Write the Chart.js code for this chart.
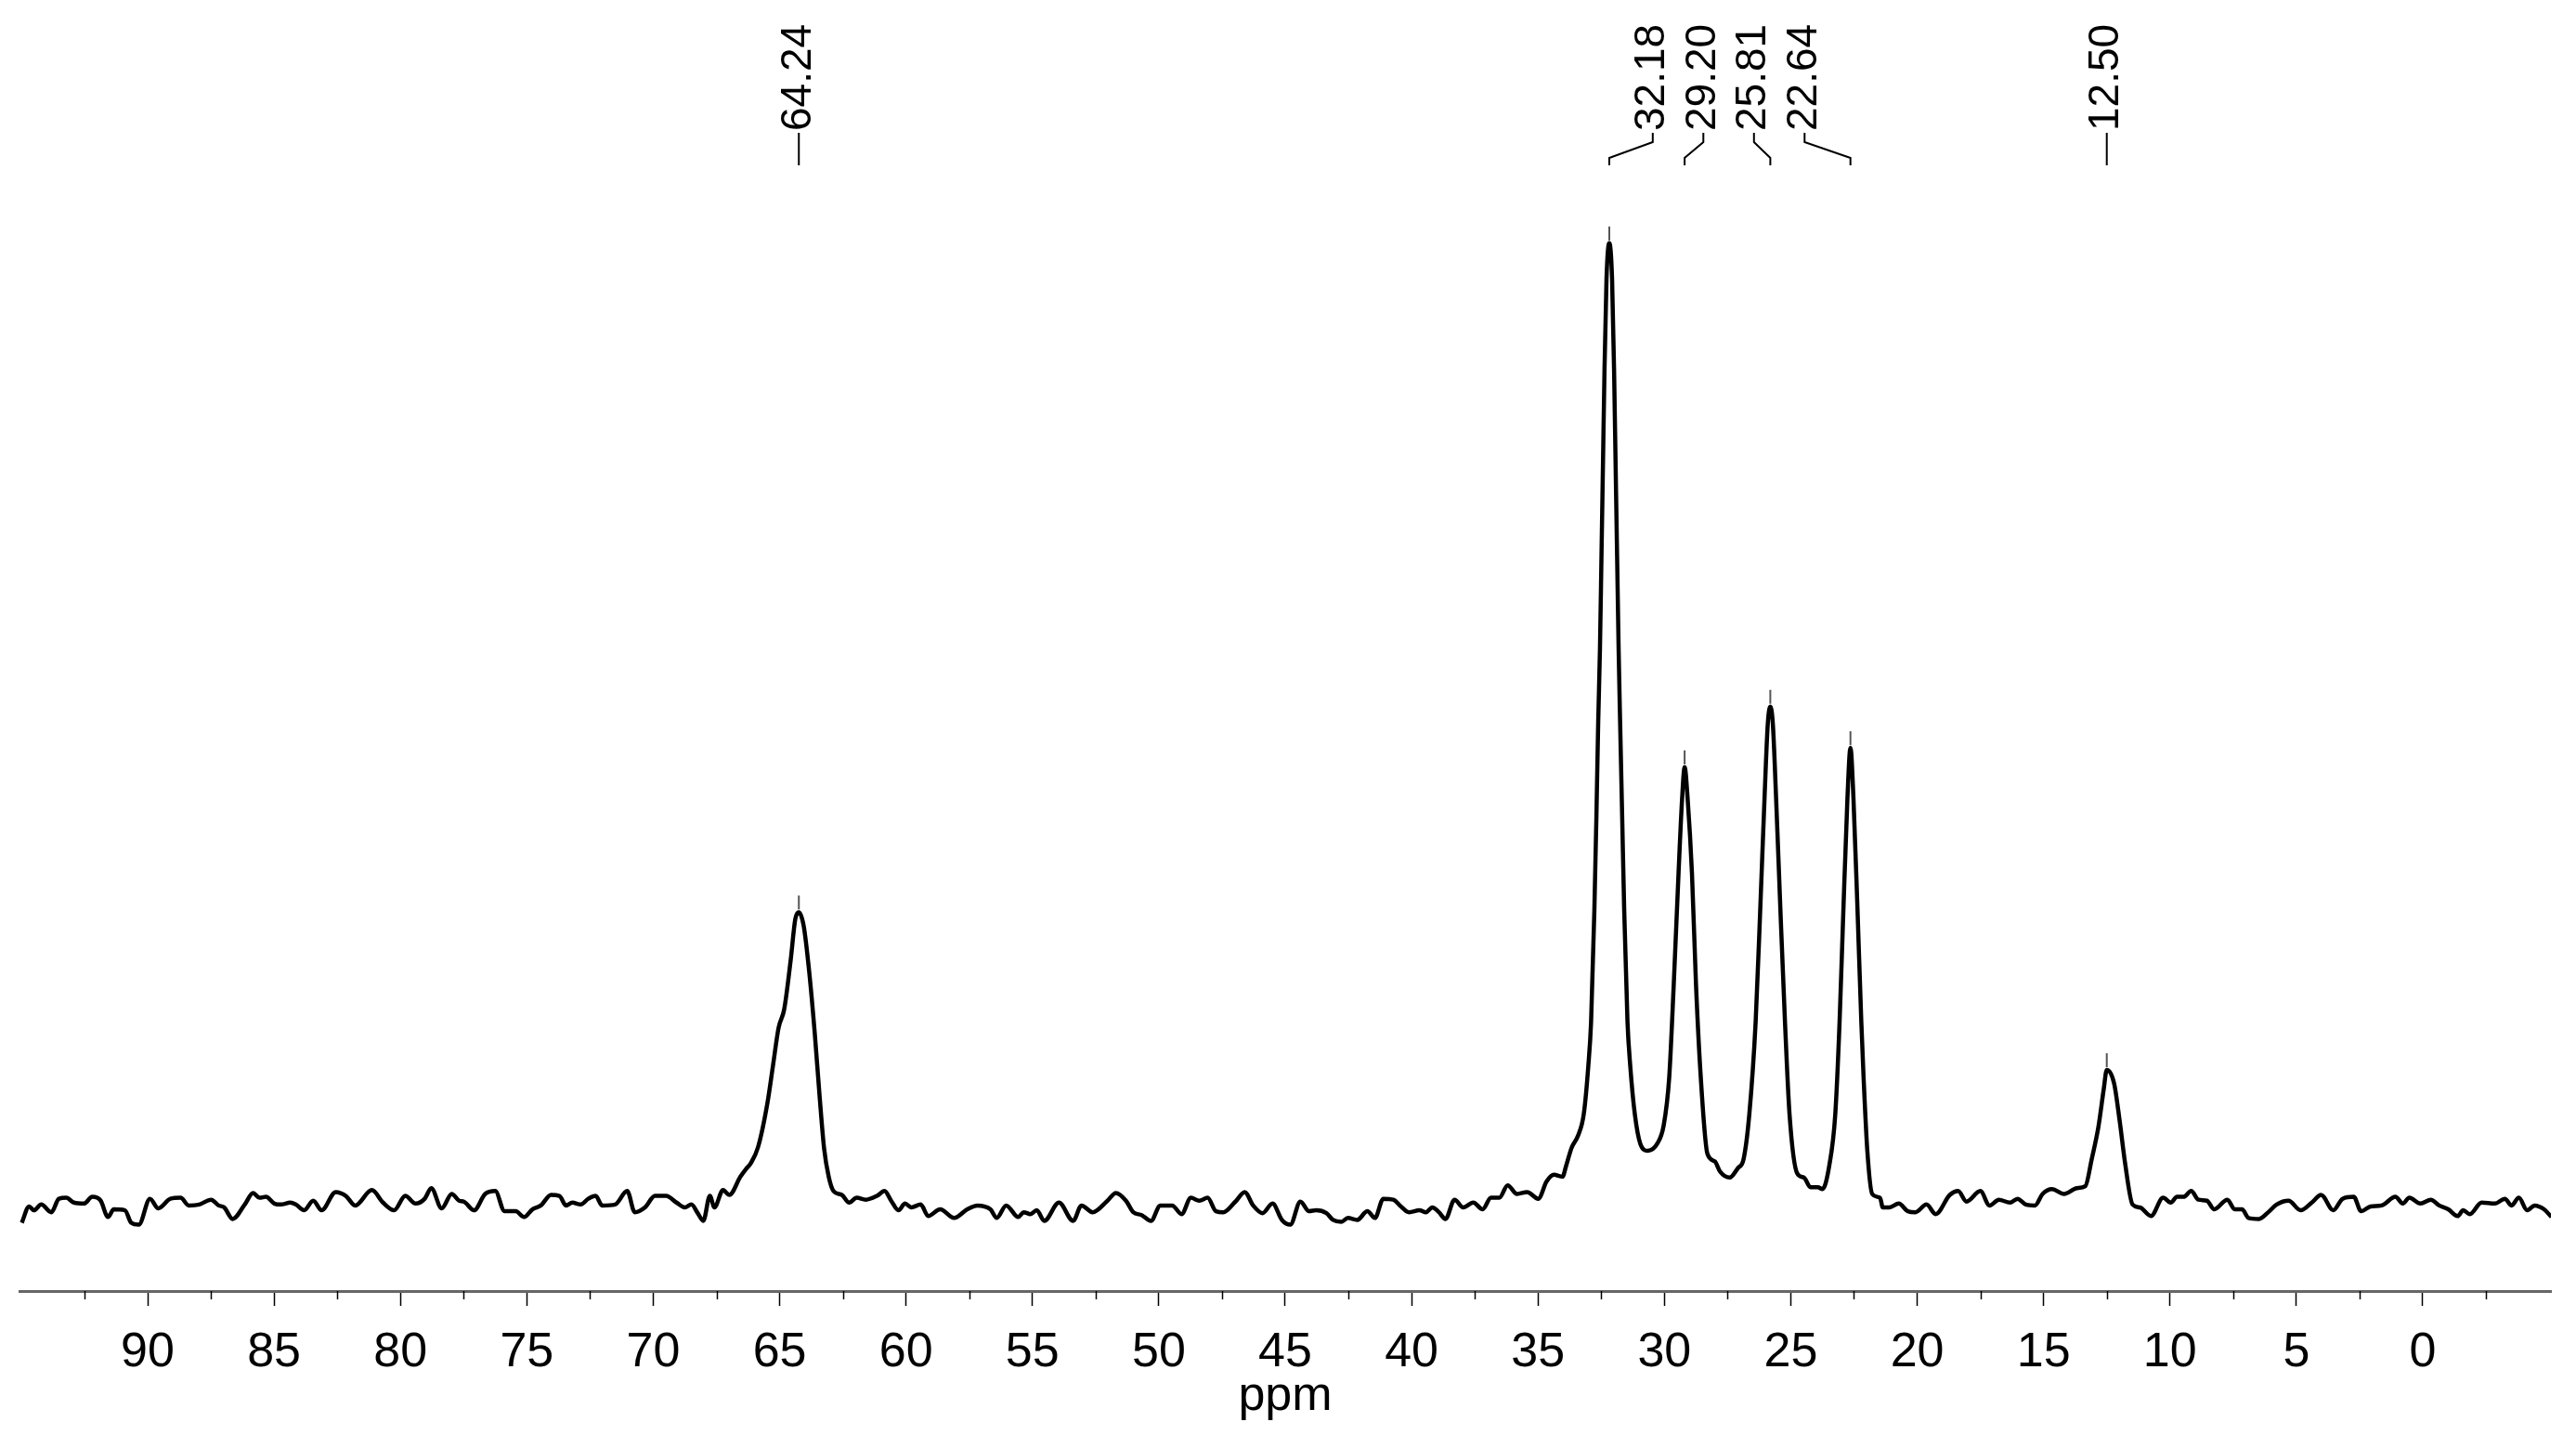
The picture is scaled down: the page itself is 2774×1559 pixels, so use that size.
<!DOCTYPE html>
<html>
<head>
<meta charset="utf-8">
<script src="https://cdn.jsdelivr.net/npm/chart.js@4.4.0/dist/chart.umd.min.js"></script>
<style>
  html, body { margin: 0; padding: 0; background: #fff; }
</style>
</head>
<body>
<canvas id="myChart" width="2774" height="1559"></canvas>
<script>
// chemical shift (ppm) and intensity, left to right
const ppm = [
  94.98, 94.69, 94.50, 94.21, 93.81, 93.51, 93.22, 92.92, 92.52, 92.19, 91.86, 91.57, 91.34, 90.90, 90.65, 90.35,
  89.91, 89.58, 89.10, 88.70, 88.37, 87.96, 87.49, 87.19, 86.97, 86.64, 86.16, 85.83, 85.58, 85.32, 84.99, 84.73,
  84.36, 84.14, 83.81, 83.45, 83.12, 82.56, 82.16, 81.79, 81.13, 80.69, 80.25, 79.81, 79.40, 79.04, 78.78, 78.37,
  77.97, 77.68, 77.49, 77.09, 76.65, 76.25, 75.88, 75.44, 75.11, 74.78, 74.45, 74.04, 73.71, 73.45, 73.20, 72.87,
  72.57, 72.28, 72.02, 71.51, 71.03, 70.73, 70.33, 69.93, 69.49, 69.08, 68.75, 68.49, 68.24, 68.02, 67.76, 67.58,
  67.24, 66.99, 66.55, 66.33, 66.14,
  65.85, 65.48, 65.26, 65.04, 64.82, 64.56, 64.38, 64.24, 64.05, 63.83, 63.61, 63.42, 63.24, 63.06, 62.87,
  62.54, 62.25, 61.95, 61.59, 61.15, 60.85, 60.59, 60.30, 60.04, 59.79, 59.42, 59.12, 58.65, 58.10, 57.58, 57.18,
  56.66, 56.41, 56.04, 55.56, 55.34, 55.08, 54.83, 54.53, 53.95, 53.39, 53.06, 52.62, 52.03, 51.70, 51.30, 51.01,
  50.68, 50.31, 49.94, 49.47, 49.10, 48.73, 48.40, 48.07, 47.74, 47.45, 46.97, 46.60, 46.27, 45.90, 45.50, 45.13,
  44.80, 44.40, 44.06, 43.77, 43.37, 43.11, 42.78, 42.52, 42.15, 41.75, 41.45, 41.12, 40.72, 40.46, 40.10, 39.69,
  39.43, 39.18, 38.92, 38.66, 38.30, 37.96, 37.56, 37.19, 36.86, 36.53, 36.20, 35.83, 35.43, 34.99, 34.66, 34.37,
  34.03, 33.89, 33.67, 33.41, 33.19, 33.01, 32.90, 32.77, 32.69, 32.62, 32.55, 32.49, 32.43, 32.37, 32.29, 32.18,
  32.07, 31.99, 31.93, 31.87, 31.81, 31.75, 31.67, 31.59, 31.46, 31.35, 31.17, 30.95, 30.66, 30.29, 30.03, 29.81,
  29.63, 29.44, 29.30, 29.20, 29.08, 28.91, 28.75, 28.56, 28.30, 28.01, 27.79, 27.42, 27.09, 26.87, 26.64, 26.39,
  26.21, 26.04, 25.91, 25.81, 25.71, 25.58, 25.41, 25.23, 25.05, 24.74, 24.48, 24.22, 23.93, 23.75, 23.48, 23.24,
  23.07, 22.92, 22.76, 22.64, 22.52, 22.36, 22.21, 22.12, 21.97, 21.78, 21.47, 21.36, 21.10, 20.73, 20.37, 20.07,
  19.63, 19.27, 18.71, 18.38, 18.05, 17.50, 17.14, 16.77, 16.33, 16.03, 15.70, 15.34, 15.04, 14.67, 14.19, 13.68,
  13.35, 13.09, 12.83, 12.62, 12.50, 12.21, 11.99, 11.77, 11.48, 11.19, 10.75, 10.27, 9.97, 9.72, 9.46, 9.16,
  8.87, 8.54, 8.25, 7.73, 7.44, 7.15, 6.89, 6.48, 6.11, 5.78, 5.31, 4.83, 4.39, 4.02, 3.54, 3.17,
  2.73, 2.44, 2.07, 1.63, 1.08, 0.79, 0.53, 0.09, -0.32, -0.65, -1.01, -1.38, -1.60, -1.86, -2.33, -2.85,
  -3.25, -3.51, -3.80, -4.13, -4.43, -4.80, -5.09
];
const intensity = [
  -1.9, -0.2, -0.6, 0.0, -0.8, 0.6, 0.7, 0.2, 0.1, 0.8, 0.4, -1.3, -0.5, -0.6, -1.9, -2.1,
  0.6, -0.4, 0.6, 0.7, -0.1, 0.0, 0.5, -0.1, -0.3, -1.5, 0.0, 1.2, 0.7, 0.8, 0.1, 0.0,
  0.2, 0.0, -0.6, 0.4, -0.6, 1.3, 0.9, -0.1, 1.5, 0.2, -0.6, 0.9, 0.1, 0.6, 1.7, -0.4,
  1.1, 0.4, 0.3, -0.6, 1.1, 1.4, -0.7, -0.7, -1.3, -0.5, -0.1, 1.0, 0.9, -0.1, 0.2, 0.0,
  0.6, 0.9, -0.1, 0.0, 1.4, -0.8, -0.3, 0.9, 0.9, 0.2, -0.3, 0.0, -0.9, -1.7, 0.9, -0.3,
  1.5, 1.0, 2.9, 3.7, 4.3,
  6.0, 10.6, 14.5, 18.4, 20.3, 25.5, 29.7, 30.4, 29.0, 24.2, 17.8, 11.3, 5.8, 2.9, 1.4,
  1.0, 0.2, 0.7, 0.5, 0.9, 1.4, 0.4, -0.6, 0.1, -0.3, 0.0, -1.2, -0.5, -1.4, -0.5, -0.1,
  -0.5, -1.4, -0.1, -1.3, -0.8, -1.0, -0.6, -1.7, 0.2, -1.7, -0.1, -0.8, 0.4, 1.2, 0.4, -0.8,
  -1.1, -1.7, -0.1, -0.1, -1.0, 0.7, 0.4, 0.7, -0.7, -0.8, 0.3, 1.3, -0.1, -0.9, 0.1, -1.6,
  -2.1, 0.3, -0.7, -0.6, -0.9, -1.6, -1.8, -1.4, -1.6, -0.7, -1.4, 0.6, 0.5, -0.1, -0.8, -0.6,
  -0.8, -0.3, -0.8, -1.5, 0.5, -0.3, 0.2, -0.5, 0.7, 0.7, 2.0, 1.1, 1.3, 0.6, 2.4, 3.1,
  2.9, 4.0, 5.9, 7.2, 9.4, 14.4, 19.0, 30.6, 40.3, 50.0, 57.7, 67.3, 77.0, 86.7, 96.3, 100.0,
  96.3, 86.7, 77.0, 67.3, 57.7, 50.0, 40.3, 30.6, 19.0, 14.4, 9.4, 6.3, 5.6, 6.3, 8.2, 13.2,
  22.9, 34.5, 42.2, 45.5, 42.2, 34.5, 22.9, 13.2, 5.3, 4.5, 3.4, 2.8, 3.8, 4.7, 9.4, 19.0,
  30.6, 42.2, 50.0, 51.8, 50.0, 42.2, 30.6, 19.0, 9.4, 3.2, 2.8, 1.8, 1.8, 1.6, 4.0, 9.4,
  19.0, 30.6, 42.2, 47.5, 42.2, 30.6, 19.0, 13.2, 5.5, 1.1, 0.7, -0.3, -0.3, 0.1, -0.7, -0.8,
  0.0, -1.0, 1.0, 1.4, 0.3, 1.4, -0.1, 0.5, 0.2, 0.6, 0.0, -0.1, 1.1, 1.6, 1.1, 1.7,
  1.9, 4.8, 8.1, 12.0, 14.0, 12.6, 8.7, 4.2, 0.0, -0.3, -1.2, 0.7, 0.2, 0.8, 0.8, 1.4,
  0.5, 0.4, -0.5, 0.5, -0.5, -0.5, -1.4, -1.5, -0.8, 0.0, 0.4, -0.6, 0.2, 1.0, -0.6, 0.6,
  0.8, -0.7, -0.2, -0.1, 0.8, 0.1, 0.7, 0.1, 0.5, -0.1, -0.5, -1.2, -0.6, -1.0, 0.2, 0.1,
  0.6, -0.1, 0.7, -0.6, -0.1, -0.5, -1.3
];

const peakPpm = [64.24, 32.18, 29.20, 25.81, 22.64, 12.50];
const tickValues = [90, 85, 80, 75, 70, 65, 60, 55, 50, 45, 40, 35, 30, 25, 20, 15, 10, 5, 0];
const minorTicks = [92.5, 87.5, 82.5, 77.5, 72.5, 67.5, 62.5, 57.5, 52.5, 47.5, 42.5, 37.5, 32.5, 27.5, 22.5, 17.5, 12.5, 7.5, 2.5, -2.5];

Chart.defaults.font.family = "'Liberation Sans', Arial, sans-serif";
Chart.defaults.color = '#000';

// peak labels on top, minor ticks and the small marks over each peak
const peakLabels = {
  id: 'peakLabels',
  afterDraw(chart) {
    const ctx = chart.ctx;
    const xs = chart.scales.x;
    const ys = chart.scales.y;
    const area = chart.chartArea;

    // minor ticks
    ctx.save();
    ctx.strokeStyle = '#000';
    ctx.lineWidth = 1.5;
    minorTicks.forEach((v) => {
      const x = Math.round(xs.getPixelForValue(v)) + 0.5;
      ctx.beginPath();
      ctx.moveTo(x, area.bottom);
      ctx.lineTo(x, area.bottom + 9);
      ctx.stroke();
    });
    ctx.restore();

    // group close peaks so their labels get spread out
    const px = peakPpm.map((p) => xs.getPixelForValue(p));
    const spacing = 54.5;
    const groups = [];
    px.forEach((x, i) => {
      const g = groups[groups.length - 1];
      if (g && x - px[g[g.length - 1]] < 100) g.push(i);
      else groups.push([i]);
    });
    const lx = [];
    groups.forEach((g) => {
      const mean = g.reduce((s, i) => s + px[i], 0) / g.length;
      g.forEach((i, k) => { lx[i] = mean + (k - (g.length - 1) / 2) * spacing; });
    });

    ctx.save();
    ctx.strokeStyle = '#000';
    ctx.lineWidth = 2;
    ctx.font = "46px 'Liberation Sans', Arial, sans-serif";
    ctx.fillStyle = '#000';
    ctx.textAlign = 'left';
    ctx.textBaseline = 'middle';
    peakPpm.forEach((p, i) => {
      const t = area.top;
      ctx.beginPath();
      ctx.moveTo(lx[i], t - 34);
      ctx.lineTo(lx[i], t - 24);
      ctx.lineTo(px[i], t - 7);
      ctx.lineTo(px[i], t + 1);
      ctx.stroke();

      ctx.save();
      ctx.translate(lx[i], t - 36);
      ctx.rotate(-Math.PI / 2);
      ctx.fillText(p.toFixed(2), 0, 0);
      ctx.restore();

      // small mark above the peak top
      let best = 0;
      ppm.forEach((v, k) => { if (Math.abs(v - p) < Math.abs(ppm[best] - p)) best = k; });
      const py = ys.getPixelForValue(intensity[best]);
      ctx.save();
      ctx.strokeStyle = '#555';
      ctx.lineWidth = 2;
      ctx.beginPath();
      ctx.moveTo(px[i], py - 3);
      ctx.lineTo(px[i], py - 18);
      ctx.stroke();
      ctx.restore();
    });
    ctx.restore();
  }
};

const ctx = document.getElementById('myChart').getContext('2d');
const myChart = new Chart(ctx, {
  type: 'line',
  data: {
    datasets: [
      {
        label: 'spectrum',
        data: ppm.map((p, i) => ({ x: p, y: intensity[i] })),
        borderColor: '#000',
        borderWidth: 4.5,
        borderJoinStyle: 'round',
        pointRadius: 0,
        cubicInterpolationMode: 'monotone',
        fill: false,
      },
    ],
  },
  options: {
    responsive: false,
    animation: false,
    devicePixelRatio: 1,
    layout: {
      padding: { left: 21, right: 27, top: 177, bottom: 0 },
    },
    scales: {
      x: {
        type: 'linear',
        reverse: true,
        min: -5.07,
        max: 95.07,
        afterBuildTicks: (axis) => {
          axis.ticks = tickValues.map((v) => ({ value: v }));
        },
        afterFit: (axis) => {
          axis.height = 169;
        },
        border: {
          display: true,
          color: '#666',
          width: 3,
        },
        grid: {
          drawOnChartArea: false,
          drawTicks: true,
          tickLength: 16,
          tickColor: '#000',
          tickWidth: 1.5,
        },
        ticks: {
          autoSkip: false,
          maxRotation: 0,
          padding: 19,
          font: { size: 52 },
          callback: (v) => String(v),
        },
        title: {
          display: true,
          text: 'ppm',
          font: { size: 52 },
          padding: { top: 0, bottom: 24 },
        },
      },
      y: {
        display: false,
        min: -9.0,
        max: 108.2,
      },
    },
    plugins: {
      legend: { display: false },
      tooltip: { enabled: false },
    },
  },
  plugins: [peakLabels],
});
</script>
</body>
</html>
